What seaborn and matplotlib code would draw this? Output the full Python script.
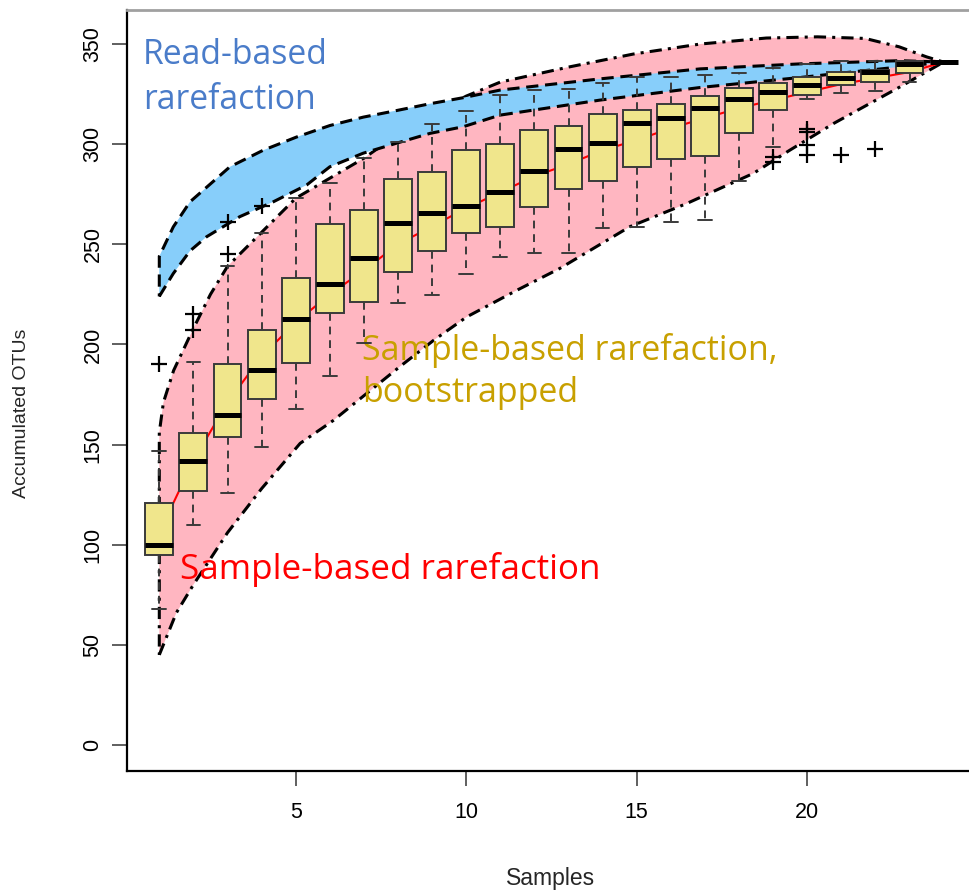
import numpy as np
import matplotlib
matplotlib.use("Agg")
import matplotlib.pyplot as plt
import seaborn as sns
from matplotlib.patches import Polygon

# ---------------- data ----------------
samples = list(range(1, 25))
whisker_lo = [68, 110, 125.6, 148.6, 168, 184.4, 200.5, 220.5, 224.7, 235, 243.8, 245.5,
              245.5, 258, 258.8, 261.3, 262.1, 281.7, 298.4, 322.5, 325.7, 326.7, 331.2, 341]
q1 = [95, 127, 154, 173, 190.5, 215.6, 221.3, 236, 246.8, 255.4, 258.4, 268.4,
      277.6, 281.7, 288.4, 292.4, 294, 305.4, 317.3, 324.5, 329.5, 331.2, 335.6, 341]
medians = [100, 142, 165, 187, 212.7, 230, 243.4, 260.8, 265.8, 269, 276.2, 286.6,
           297.6, 300.8, 310.6, 313.3, 318.3, 322.8, 326.2, 329.5, 333.1, 336.2, 340.2, 341]
q3 = [121, 156, 190, 207, 233, 260, 267, 282.8, 286.2, 297, 300, 307,
      309.2, 315.3, 317.3, 320.3, 324.2, 328.3, 330.4, 333.6, 336.2, 337, 341.6, 341]
whisker_hi = [147, 191, 239, 255.5, 273, 280.7, 293.3, 301.2, 310, 316.7, 324.5, 327,
              327.8, 330.5, 333.6, 333.6, 334.5, 335.3, 337.8, 340.2, 341.5, 341.5, 341.6, 341]
outliers = {1: [190], 2: [207, 215], 3: [245, 261], 4: [269],
            19: [293.4, 291.2], 20: [307.5, 306, 299.5, 294.6], 21: [294.6], 22: [297.8]}

mean_curve = [106, 142, 171, 194, 211, 225, 237, 250, 259, 268, 276, 284,
              290, 297, 302, 308, 313, 318, 322, 326, 330, 333, 336, 341]

read_upper_x = [1, 1.41, 1.9, 3.07, 4.05, 5.03, 6.0, 6.98, 7.96, 8.94, 9.91, 10.99,
                13.92, 16.86, 19.79, 22.72, 24]
read_upper_y = [244, 258.7, 271.2, 288.7, 297, 303.6, 309.3, 313.5, 316.8, 320.2, 323.2, 327,
                332.6, 337.6, 340.1, 341.7, 341]
read_lower_x = [1, 1.41, 1.9, 2.39, 3.36, 4.34, 5.32, 6.0, 6.98, 7.96, 8.94, 9.91, 10.99,
                13.92, 16.86, 19.79, 22.72, 24]
read_lower_y = [224, 235.4, 246.7, 253.8, 263.8, 271.2, 279.6, 288.7, 295.5, 300.5, 305.4, 308.7,
                314.5, 322, 328.3, 333.3, 338.6, 341]

samp_upper_x = [1, 1.12, 1.42, 2.0, 2.5, 3, 4, 5, 6, 7, 8, 9, 10, 11, 13, 14.9, 16.86,
                18.8, 20.3, 21.7, 22.7, 23.5, 24]
samp_upper_y = [156, 171, 187, 208, 225, 239, 256, 273, 283, 293, 305, 315, 324, 331, 338.5,
                345, 350, 353, 353.6, 352.8, 348.6, 343.6, 341]
samp_lower_x = [1, 1.5, 2, 2.5, 3, 4, 5.13, 6.1, 7.08, 8.06, 9.04, 10.01, 11.48, 12.75,
                14.8, 16.47, 18.42, 19.49, 20.77, 22.72, 24]
samp_lower_y = [45, 66, 80, 93, 106, 128, 150.6, 162, 175.5, 189, 202, 213.7, 227, 238,
                258.8, 270.4, 285.4, 297, 310.3, 328.6, 341]

x_ticks = [5, 10, 15, 20]
y_ticks = [0, 50, 100, 150, 200, 250, 300, 350]

# ---------------- style ----------------
sns.set_theme(style="white")
plt.rcParams["font.family"] = ["Liberation Sans", "DejaVu Sans"]

W, H = 969, 896
fig = plt.figure(figsize=(W / 100, H / 100), dpi=100)
L, R, B, T = 127, 969, 771, 10
ax = fig.add_axes([L / W, (H - B) / H, (R - L) / W, (B - T) / H])

# sample-based rarefaction band (pink)
pk = np.column_stack([samp_lower_x + samp_upper_x[::-1], samp_lower_y + samp_upper_y[::-1]])
ax.add_patch(Polygon(pk, closed=True, facecolor="#FFB6C1", edgecolor="black",
                     linestyle=(0, (4, 2, 1, 2)), lw=2.2, zorder=1))
# read-based rarefaction band (blue)
bl = np.column_stack([read_lower_x + read_upper_x[::-1], read_lower_y + read_upper_y[::-1]])
ax.add_patch(Polygon(bl, closed=True, facecolor="#87CEFA", edgecolor="black",
                     linestyle=(0, (4, 2.2)), lw=2.2, zorder=2))

# mean curve
sns.lineplot(x=samples, y=mean_curve, color="red", lw=1.5, ax=ax, zorder=3)

# boxplots
stats = []
for i, s in enumerate(samples):
    stats.append(dict(med=medians[i], q1=q1[i], q3=q3[i], whislo=whisker_lo[i],
                      whishi=whisker_hi[i], fliers=outliers.get(s, [])))
ax.bxp(stats, positions=samples, widths=0.82, patch_artist=True, manage_ticks=False,
       capwidths=0.4, zorder=4,
       boxprops=dict(facecolor="#F0E68C", edgecolor="#3a3a3a", lw=1.4),
       medianprops=dict(color="black", lw=3.6, solid_capstyle="butt"),
       whiskerprops=dict(color="#3a3a3a", lw=1.4, linestyle=(0, (4, 3))),
       capprops=dict(color="#3a3a3a", lw=1.4),
       flierprops=dict(marker="+", markeredgecolor="black", markersize=11, mew=1.6))

# annotations
ann_font = ["Open Sans", "DejaVu Sans"]
ax.text(0.52, 344.5, "Read-based", color="#4A7CC9", fontsize=24.3, family=ann_font,
        ha="left", va="center")
ax.text(0.52, 322, "rarefaction", color="#4A7CC9", fontsize=24.3, family=ann_font,
        ha="left", va="center")
ax.text(6.94, 197, "Sample-based rarefaction,", color="#C8A000", fontsize=24.5, family=ann_font,
        ha="left", va="center")
ax.text(6.94, 176, "bootstrapped", color="#C8A000", fontsize=24.5, family=ann_font,
        ha="left", va="center")
ax.text(1.62, 87.4, "Sample-based rarefaction", color="#FF0000", fontsize=25.2, family=ann_font,
        ha="left", va="center")

# axes
ax.set_xlim((L - 125.2) / 34.1, (R - 125.2) / 34.1)
ax.set_ylim(-13, 367)
ax.set_xticks(x_ticks)
ax.set_xticklabels([str(t) for t in x_ticks])
ax.set_yticks(y_ticks)
ax.set_yticklabels([str(t) for t in y_ticks], rotation=90, va="center")
ax.tick_params(axis="both", direction="out", length=11, width=1.2, color="#444444",
               labelsize=15.5, labelcolor="black")
ax.tick_params(axis="x", pad=11, bottom=True)
ax.tick_params(axis="y", pad=6, left=True)
for side in ["left", "bottom"]:
    ax.spines[side].set_color("black")
    ax.spines[side].set_linewidth(1.6)
ax.spines["top"].set_color("#a0a0a0")
ax.spines["top"].set_linewidth(2)
ax.spines["right"].set_visible(False)

ax.set_xlabel("Samples", fontsize=16.5)
ax.set_ylabel("Accumulated OTUs", fontsize=14)
ax.xaxis.set_label_coords((551 - L) / (R - L), (H - 878 - (H - B)) / (B - T))
ax.xaxis.label.set_va("center")
ax.yaxis.set_label_coords((22 - L) / (R - L), (H - 413 - (H - B)) / (B - T))
ax.yaxis.label.set_va("center")
ax.grid(False)

fig.savefig("out.png", dpi=100)
